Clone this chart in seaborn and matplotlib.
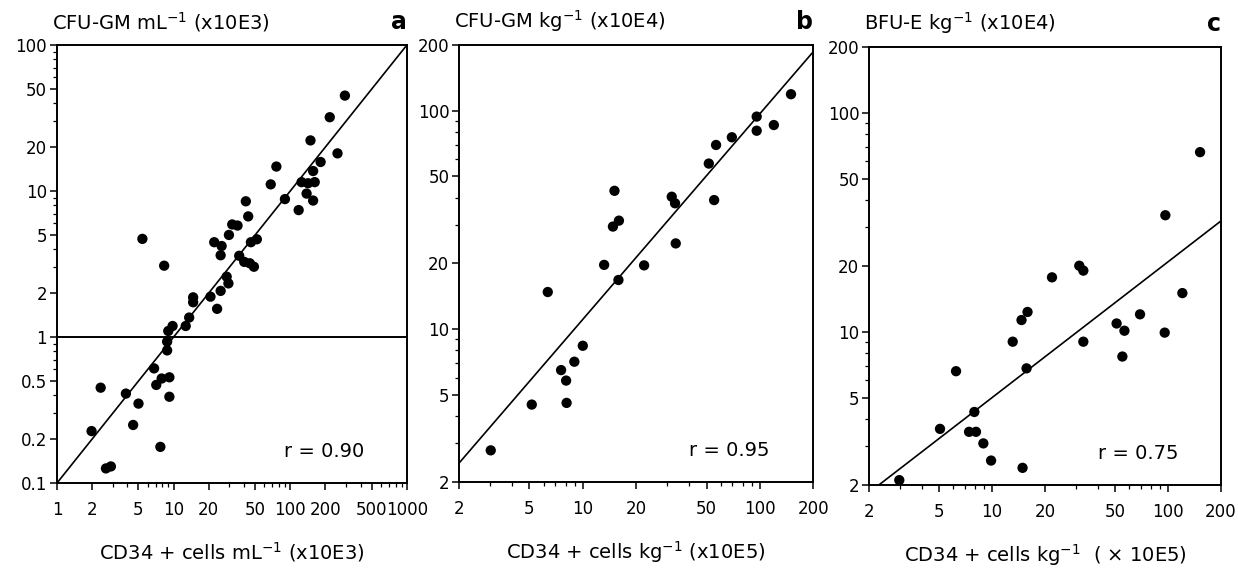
import numpy as np
import matplotlib
matplotlib.use('Agg')
import matplotlib.pyplot as plt
import seaborn as sns
from matplotlib.ticker import LogLocator, NullFormatter

sns.set_style('ticks')
plt.rcParams['font.family'] = ['DejaVu Sans']
plt.rcParams['mathtext.default'] = 'regular'
plt.rcParams['text.color'] = 'black'
plt.rcParams['axes.labelcolor'] = 'black'
plt.rcParams['xtick.color'] = 'black'
plt.rcParams['ytick.color'] = 'black'

# --- data ---
# panel a: CFU-GM per mL vs CD34+ cells per mL (x10E3)
a_cd34 = [294, 218, 149, 254, 182, 76, 157, 68, 125, 142, 162, 138, 90, 157, 118,
          41.6, 43.6, 31.8, 35.3, 29.8, 5.4, 22.3, 25.8, 46, 51.7, 25.3, 36.5, 40.3,
          45, 48.8, 8.3, 28.5, 29.5, 25.3, 14.7, 14.7, 20.7, 23.6, 13.6, 12.7, 9.8,
          9.0, 8.8, 8.8, 6.8, 7.1, 7.9, 9.2, 9.2, 2.37, 3.9, 5.0, 4.5, 1.98, 7.7,
          2.63, 2.9]
a_cfu = [45, 32, 22.2, 18.1, 15.8, 14.7, 13.7, 11.1, 11.5, 11.3, 11.5, 9.6, 8.8, 8.6,
         7.4, 8.5, 6.7, 5.9, 5.8, 5.0, 4.7, 4.46, 4.2, 4.46, 4.67, 3.63, 3.6, 3.27,
         3.2, 3.03, 3.08, 2.59, 2.33, 2.07, 1.87, 1.73, 1.89, 1.56, 1.36, 1.19, 1.19,
         1.10, 0.93, 0.81, 0.61, 0.47, 0.52, 0.53, 0.39, 0.45, 0.41, 0.35, 0.25, 0.227,
         0.177, 0.126, 0.13]

# panel b: CFU-GM per kg (x10E4) vs CD34+ cells per kg (x10E5)
b_cd34 = [150, 96, 96, 120, 69.5, 56.6, 51.5, 55.2, 15.1, 31.8, 33.2, 16, 14.8, 33.5,
          13.2, 22.2, 15.9, 6.34, 10, 8.96, 7.54, 8.05, 8.1, 5.15, 3.02]
b_cfu = [119, 94, 81, 86, 75.6, 69.7, 57.3, 39, 43, 40.4, 37.7, 31.4, 29.5, 24.7,
         19.7, 19.6, 16.8, 14.8, 8.4, 7.1, 6.5, 5.82, 4.6, 4.52, 2.79]

# panel c: BFU-E per kg (x10E4) vs CD34+ cells per kg (x10E5)
c_cd34 = [152, 96.5, 31.3, 33, 21.9, 120.6, 15.9, 14.7, 13.1, 69.3, 51, 56.5, 95.7,
          33, 55, 6.24, 15.7, 7.93, 5.06, 7.4, 8.1, 8.92, 9.87, 14.9, 2.97]
c_bfu = [66, 34, 20, 19, 17.7, 15, 12.3, 11.3, 9.0, 12.0, 10.9, 10.1, 9.9, 9.0, 7.7,
         6.6, 6.8, 4.3, 3.6, 3.49, 3.49, 3.09, 2.58, 2.39, 2.1]

# fitted lines (log10 y = slope * log10 x + intercept)
fit_slope = [1.0, 0.941, 0.62]
fit_intercept = [-1.0, 0.104, 0.079]
r_values = ['r = 0.90', 'r = 0.95', 'r = 0.75']

a_ticks = [0.1, 0.2, 0.5, 1, 2, 5, 10, 20, 50, 100]
a_ticklabels = ['0.1', '0.2', '0.5', '1', '2', '5', '10', '20', '50', '100']
a_xticks = [1, 2, 5, 10, 20, 50, 100, 200, 500, 1000]
a_xticklabels = ['1', '2', '5', '10', '20', '50', '100', '200', '500', '1000']
bc_ticks = [2, 5, 10, 20, 50, 100, 200]
bc_ticklabels = ['2', '5', '10', '20', '50', '100', '200']

titles = ['CFU-GM mL$^{-1}$ (x10E3)', 'CFU-GM kg$^{-1}$ (x10E4)', 'BFU-E kg$^{-1}$ (x10E4)']
xlabels = ['CD34 + cells mL$^{-1}$ (x10E3)', 'CD34 + cells kg$^{-1}$ (x10E5)',
           'CD34 + cells kg$^{-1}$  ( × 10E5)']
letters = ['a', 'b', 'c']

fig = plt.figure(figsize=(12.38, 5.69), dpi=100)
axes = [fig.add_axes([0.046, 0.151, 0.2827, 0.770]),
        fig.add_axes([0.3708, 0.153, 0.286, 0.768]),
        fig.add_axes([0.702, 0.148, 0.2843, 0.770])]

panels = [(a_cd34, a_cfu, (1, 1000), (0.1, 100), a_xticks, a_xticklabels, a_ticks, a_ticklabels),
          (b_cd34, b_cfu, (2, 200), (2, 200), bc_ticks, bc_ticklabels, bc_ticks, bc_ticklabels),
          (c_cd34, c_bfu, (2, 200), (2, 200), bc_ticks, bc_ticklabels, bc_ticks, bc_ticklabels)]

for i, (ax, p) in enumerate(zip(axes, panels)):
    x, y, xlim, ylim, xt, xtl, yt, ytl = p
    sns.scatterplot(x=x, y=y, ax=ax, color='black', s=55, edgecolor='none', zorder=3)

    # regression line across the x range
    lx = np.logspace(np.log10(xlim[0]), np.log10(xlim[1]), 50)
    ly = 10 ** (fit_slope[i] * np.log10(lx) + fit_intercept[i])
    sns.lineplot(x=lx, y=ly, ax=ax, color='black', linewidth=1.2)
    if i == 0:
        ax.axhline(1, color='black', linewidth=1.4)

    ax.set_xscale('log')
    ax.set_yscale('log')
    ax.set_xlim(xlim)
    ax.set_ylim(ylim)
    ax.set_xticks(xt)
    ax.set_xticklabels(xtl)
    ax.set_yticks(yt)
    ax.set_yticklabels(ytl)
    ax.xaxis.set_minor_locator(LogLocator(base=10, subs=np.arange(2, 10)))
    ax.yaxis.set_minor_locator(LogLocator(base=10, subs=np.arange(2, 10)))
    ax.xaxis.set_minor_formatter(NullFormatter())
    ax.yaxis.set_minor_formatter(NullFormatter())
    ax.tick_params(axis='both', which='major', length=5, width=1.1, labelsize=12)
    ax.tick_params(axis='x', which='major', pad=8)
    ax.tick_params(axis='y', which='major', pad=2)
    ax.tick_params(axis='both', which='minor', length=3, width=0.9)
    for s in ax.spines.values():
        s.set_linewidth(1.4)
        s.set_color('black')

    ax.set_xlabel(xlabels[i], fontsize=14, labelpad=15)
    ax.set_ylabel('')
    ax.text(-0.015, 1.025, titles[i], transform=ax.transAxes, fontsize=14,
            ha='left', va='bottom')
    ax.text(1.0, 1.025, letters[i], transform=ax.transAxes, fontsize=17,
            fontweight='bold', ha='right', va='bottom')
    ax.text(0.65, 0.072, r_values[i], transform=ax.transAxes, fontsize=14,
            ha='left', va='center')

fig.savefig('out.png', dpi=100, facecolor='white')
